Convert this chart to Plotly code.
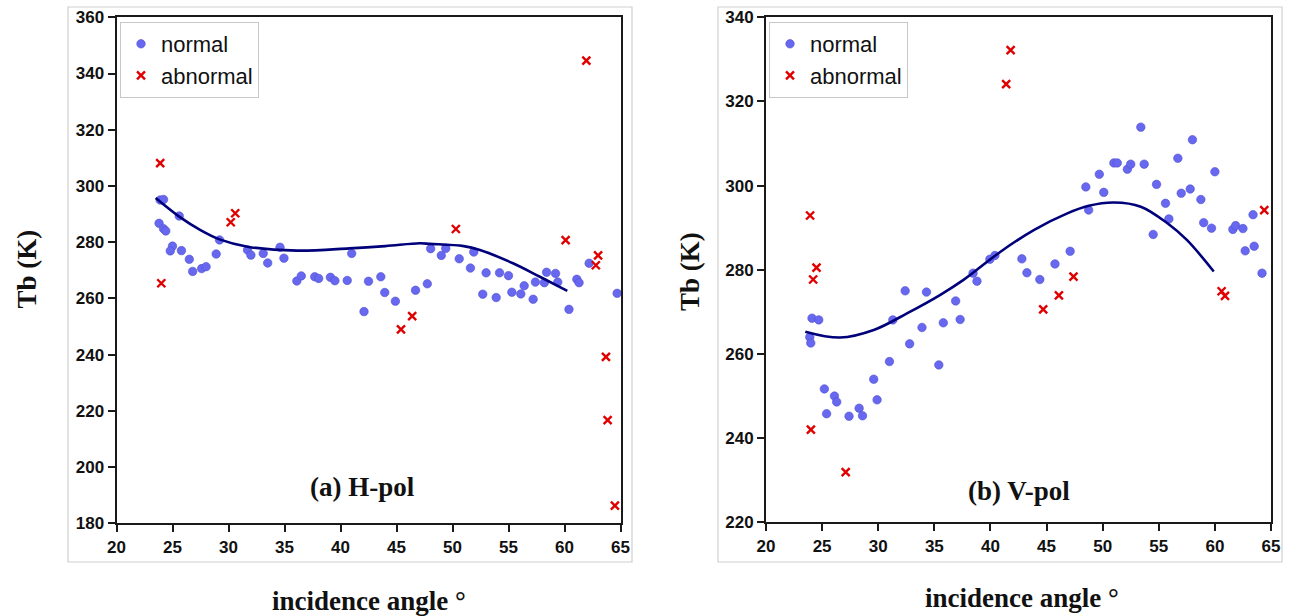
import plotly.graph_objects as go

# ---------------- Data: (a) H-pol ----------------
h_norm_x = [23.9, 24.2, 23.8, 24.2, 24.4, 25.6, 25.0, 24.8, 25.8, 26.5, 26.8, 27.6, 28.0, 28.9, 29.2,
            31.7, 32.0, 33.1, 33.5, 34.6, 34.95, 36.1, 36.5, 37.7, 38.05, 39.1, 39.5, 40.6, 41.0,
            42.1, 42.5, 43.6, 43.95, 44.9, 46.7, 47.75, 48.05, 49.0, 49.4, 50.6, 51.6, 51.9,
            52.7, 53.0, 53.9, 54.2, 55.0, 55.3, 56.1, 56.4, 57.2, 57.4, 58.2, 58.4, 59.2, 59.4,
            60.4, 61.1, 61.3, 62.2, 64.7]
h_norm_y = [295.0, 295.2, 286.7, 284.8, 284.0, 289.3, 278.6, 276.9, 277.0, 273.9, 269.6, 270.6, 271.3, 275.8, 280.8,
            277.2, 275.4, 276.0, 272.6, 278.2, 274.3, 266.2, 268.0, 267.7, 267.1, 267.5, 266.3, 266.4, 276.0,
            255.3, 266.1, 267.7, 262.1, 259.0, 262.9, 265.2, 277.7, 275.3, 277.8, 274.1, 270.8, 276.5,
            261.5, 269.1, 260.3, 269.1, 268.1, 262.2, 261.6, 264.5, 259.7, 265.8, 265.6, 269.3, 268.9, 265.8,
            256.1, 266.8, 265.6, 272.5, 261.8]
h_abn_x = [23.9, 24.0, 30.2, 30.6, 45.4, 46.4, 50.3, 60.1, 61.95, 62.8, 63.0, 63.7, 63.85, 64.5]
h_abn_y = [308.1, 265.4, 287.1, 290.3, 249.0, 253.7, 284.7, 280.7, 344.6, 271.8, 275.3, 239.2, 216.7, 186.3]
h_fit_x = [23.5, 25.6, 27.5, 29.2, 31.7, 36.1, 40.8, 44.0, 47.1, 48.0, 51.0, 52.45, 55.4, 57.8, 60.25]
h_fit_y = [295.7, 289.1, 284.3, 281.0, 278.4, 277.0, 277.8, 278.6, 279.6, 279.4, 278.6, 277.2, 272.5, 267.7, 262.7]

# ---------------- Data: (b) V-pol ----------------
v_norm_x = [24.1, 24.7, 23.9, 23.99, 25.2, 25.4, 26.1, 26.3, 27.4, 28.3, 28.6, 29.6, 29.9, 31.0, 31.3,
            32.4, 32.8, 33.9, 34.3, 35.4, 35.8, 36.9, 37.3, 38.45, 38.8, 39.95, 40.4, 42.8, 43.25,
            44.4, 45.75, 47.1, 48.5, 48.75, 49.7, 50.1, 51.0, 51.3, 52.2, 52.5, 53.4, 53.7, 54.5,
            54.8, 55.6, 55.9, 56.7, 57.0, 57.8, 58.0, 58.75, 59.0, 59.7, 60.0, 61.6, 61.85, 62.5,
            62.7, 63.4, 63.5, 64.2]
v_norm_y = [268.5, 268.1, 264.0, 262.6, 251.7, 245.8, 250.0, 248.6, 245.2, 247.1, 245.3, 254.0, 249.1, 258.2, 268.1,
            275.0, 262.4, 266.3, 274.7, 257.4, 267.4, 272.6, 268.2, 279.2, 277.3, 282.5, 283.4, 282.6, 279.3,
            277.7, 281.4, 284.4, 299.7, 294.2, 302.7, 298.4, 305.4, 305.4, 303.9, 305.1, 313.9, 305.1, 288.4,
            300.3, 295.8, 292.1, 306.5, 298.2, 299.2, 310.9, 296.7, 291.2, 289.9, 303.3, 289.6, 290.5, 289.8,
            284.5, 293.1, 285.6, 279.2]
v_abn_x = [23.93, 24.2, 24.5, 24.0, 27.1, 41.4, 41.8, 44.7, 46.1, 47.4, 60.6, 60.9, 64.4]
v_abn_y = [292.9, 277.7, 280.5, 242.0, 231.9, 324.1, 332.2, 270.6, 273.9, 278.4, 274.9, 273.8, 294.2]
v_fit_x = [23.5, 26.6, 29.6, 32.6, 35.5, 37.6, 40.9, 43.9, 46.85, 48.75, 51.0, 53.4, 55.8, 57.5, 59.9]
v_fit_y = [265.3, 263.9, 265.7, 269.7, 274.0, 277.6, 284.3, 289.5, 293.4, 295.2, 296.0, 295.0, 291.0, 287.1, 279.6]

x_ticks = [20, 25, 30, 35, 40, 45, 50, 55, 60, 65]
h_yticks = [180, 200, 220, 240, 260, 280, 300, 320, 340, 360]
v_yticks = [220, 240, 260, 280, 300, 320, 340]

BLUE = "#6767f0"
RED = "#e00000"
NAVY = "#00007a"
SANS = "Arial, Liberation Sans, sans-serif"
SERIF = "Times New Roman, Liberation Serif, serif"

W, H = 1293, 616

fig = go.Figure()


def add_panel(nx, ny, ax, ay, fx, fy, xa, ya, legend):
    fig.add_trace(go.Scatter(x=nx, y=ny, mode="markers", name="normal", xaxis=xa, yaxis=ya,
                             legend=legend, cliponaxis=False,
                             marker=dict(color=BLUE, size=8.5, line=dict(color="#5353d0", width=0.6))))
    fig.add_trace(go.Scatter(x=ax, y=ay, mode="markers", name="abnormal", xaxis=xa, yaxis=ya,
                             legend=legend, cliponaxis=False,
                             marker=dict(symbol="x-thin", size=8, color=RED, line=dict(color=RED, width=2.4))))
    fig.add_trace(go.Scatter(x=fx, y=fy, mode="lines", showlegend=False, xaxis=xa, yaxis=ya,
                             line=dict(color=NAVY, width=2.6, shape="spline", smoothing=1.0)))


add_panel(h_norm_x, h_norm_y, h_abn_x, h_abn_y, h_fit_x, h_fit_y, "x", "y", "legend")
add_panel(v_norm_x, v_norm_y, v_abn_x, v_abn_y, v_fit_x, v_fit_y, "x2", "y2", "legend2")

axis_common = dict(showgrid=False, zeroline=False, showline=True, linecolor="#1a1a1a", linewidth=2,
                   mirror=True, ticks="outside", ticklen=7, tickwidth=2, tickcolor="#1a1a1a",
                   automargin=False,
                   tickfont=dict(family=SANS, size=17, color="#111111"))


def px_x(p):
    return p / W


def px_y(p):
    return 1 - p / H


legend_common = dict(xanchor="left", yanchor="top", bordercolor="#c8c8c8", borderwidth=1,
                     bgcolor="white", font=dict(family=SANS, size=22, color="#111111"), itemwidth=30)

fig.update_layout(
    width=W, height=H,
    margin=dict(l=0, r=0, t=0, b=0, pad=0, autoexpand=False),
    paper_bgcolor="white", plot_bgcolor="white",
    xaxis=dict(domain=[px_x(116.5), px_x(620.5)], range=[20, 65], tickvals=x_ticks,
               ticktext=[f"<b>{t}</b>" for t in x_ticks], anchor="y", **axis_common),
    yaxis=dict(domain=[px_y(523.3), px_y(17.3)], range=[180, 360], tickvals=h_yticks,
               ticktext=[f"<b>{t}</b>" for t in h_yticks], anchor="x", **axis_common),
    xaxis2=dict(domain=[px_x(766), px_x(1271)], range=[20, 65], tickvals=x_ticks,
                ticktext=[f"<b>{t}</b>" for t in x_ticks], anchor="y2", **axis_common),
    yaxis2=dict(domain=[px_y(522.3), px_y(17.3)], range=[220, 340], tickvals=v_yticks,
                ticktext=[f"<b>{t}</b>" for t in v_yticks], anchor="x2", **axis_common),
    legend=dict(x=px_x(120), y=px_y(22), **legend_common),
    legend2=dict(x=px_x(769), y=px_y(22), **legend_common),
    showlegend=True,
)

# light outer frames of each sub-figure
for x0, x1 in [(68, 632), (718, 1282)]:
    fig.add_shape(type="rect", xref="paper", yref="paper", x0=px_x(x0), x1=px_x(x1),
                  y0=px_y(562), y1=px_y(7), line=dict(color="#cfcfcf", width=1.2), layer="below")

title_font = dict(family=SERIF, size=27, color="#111111")
annotations = [
    dict(text="<b>Tb (K)</b>", x=px_x(26.5), y=px_y(269), textangle=-90),
    dict(text="<b>Tb (K)</b>", x=px_x(690), y=px_y(271), textangle=-90),
    dict(text="<b>incidence angle °</b>", x=px_x(369), y=px_y(601)),
    dict(text="<b>incidence angle °</b>", x=px_x(1022), y=px_y(598)),
    dict(text="<b>(a) H-pol</b>", x=px_x(362), y=px_y(487)),
    dict(text="<b>(b) V-pol</b>", x=px_x(1019), y=px_y(491)),
]
for a in annotations:
    fig.add_annotation(xref="paper", yref="paper", showarrow=False, xanchor="center", yanchor="middle",
                       font=title_font, **a)

fig.write_html("out.html", config={"displayModeBar": False},
               post_script="document.body.style.margin='0';document.body.style.overflow='hidden';")
